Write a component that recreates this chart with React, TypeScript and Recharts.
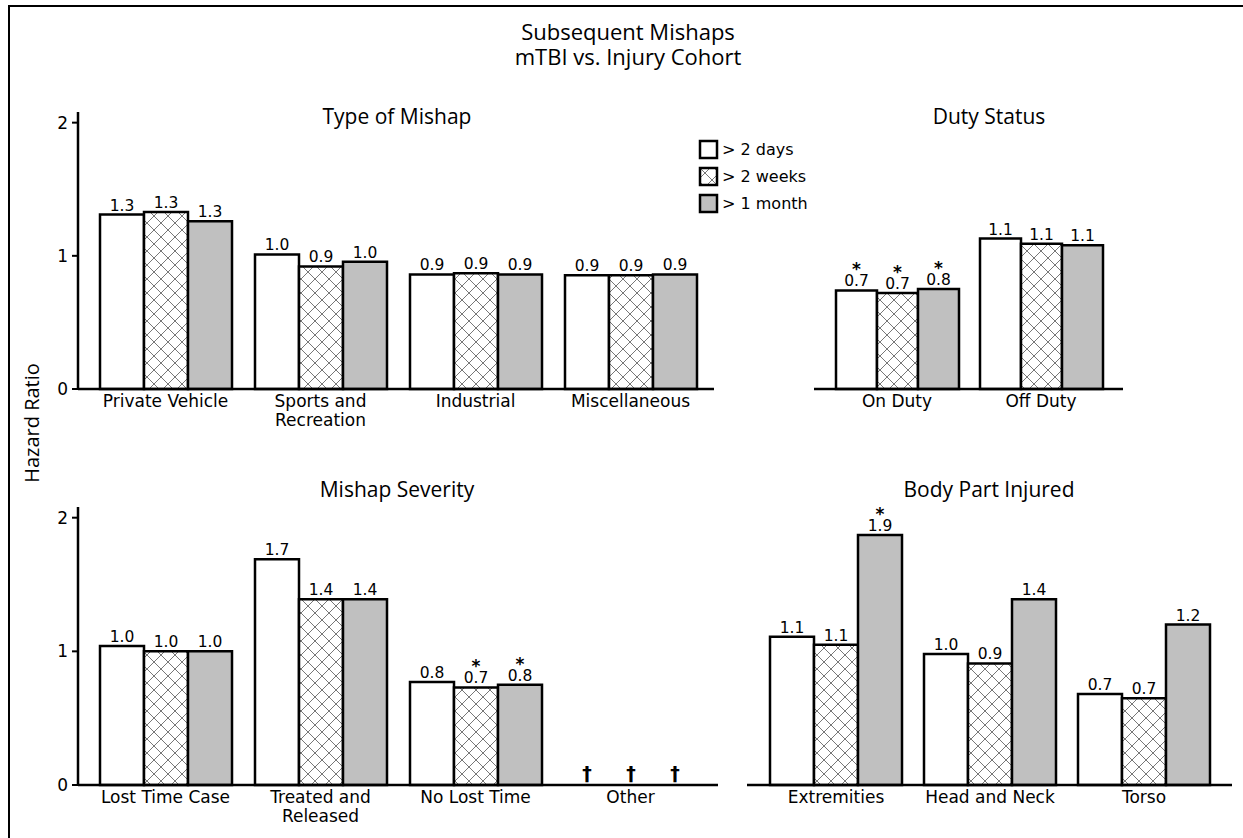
import React from 'react'
import { BarChart, Bar, XAxis, YAxis, LabelList, Legend, Rectangle } from 'recharts'

// Type of Mishap
const typeCats = ['Private Vehicle', 'Sports and\nRecreation', 'Industrial', 'Miscellaneous']
const type2d = [1.31, 1.01, 0.86, 0.855]
const type2w = [1.33, 0.92, 0.87, 0.855]
const type1m = [1.26, 0.955, 0.86, 0.86]
const typeSig2d = [false, false, false, false]
const typeSig2w = [false, false, false, false]
const typeSig1m = [false, false, false, false]

// Duty Status
const dutyCats = ['On Duty', 'Off Duty']
const duty2d = [0.74, 1.13]
const duty2w = [0.72, 1.09]
const duty1m = [0.75, 1.08]
const dutySig2d = [true, false]
const dutySig2w = [true, false]
const dutySig1m = [true, false]

// Mishap Severity (null = not estimable, shown as a dagger)
const sevCats = ['Lost Time Case', 'Treated and\nReleased', 'No Lost Time', 'Other']
const sev2d = [1.04, 1.69, 0.77, null]
const sev2w = [1.0, 1.39, 0.73, null]
const sev1m = [1.0, 1.39, 0.75, null]
const sevSig2d = [false, false, false, false]
const sevSig2w = [false, false, true, false]
const sevSig1m = [false, false, true, false]

// Body Part Injured
const bodyCats = ['Extremities', 'Head and Neck', 'Torso']
const body2d = [1.11, 0.98, 0.68]
const body2w = [1.05, 0.91, 0.65]
const body1m = [1.87, 1.39, 1.2]
const bodySig2d = [false, false, false]
const bodySig2w = [false, false, false]
const bodySig1m = [true, false, false]

const yTicks = [0, 1, 2]
const seriesNames = ['> 2 days', '> 2 weeks', '> 1 month']

// placeholder height so the dagger marker still gets a slot from the bar layout
const DAGGER_SLOT = 0.1

const tickFont = '"DejaVu Sans", Verdana, sans-serif'
const titleFont = '"Open Sans", "Noto Sans", sans-serif'

function CatTick(props: any) {
  const { x, y, payload } = props
  const lines = String(payload.value).split('\n')
  return (
    <text x={x} y={y + 10} textAnchor="middle" fontSize={17} fontFamily={tickFont} fill="#000">
      {lines.map((l, i) => (
        <tspan key={i} x={x} dy={i === 0 ? 0 : 19}>{l}</tspan>
      ))}
    </text>
  )
}

function makeLabel(values: (number | null)[], sig: boolean[]) {
  return (props: any) => {
    const vb = props.viewBox || {}
    const x = props.x ?? vb.x
    const y = props.y ?? vb.y
    const w = props.width ?? vb.width
    const i = props.index
    const v = values[i]
    if (v == null) return null
    const cx = x + w / 2
    if (!sig[i]) {
      return (
        <text x={cx} y={y - 4} textAnchor="middle" fontSize={15.5} fontFamily={tickFont} fill="#000">{v.toFixed(1)}</text>
      )
    }
    // significance star sits right on top of the value
    return (
      <text x={cx} y={y - 15} textAnchor="middle" fontFamily={tickFont} fill="#000">
        <tspan x={cx} fontSize={17} fontWeight="bold">*</tspan>
        <tspan x={cx} dy={11} fontSize={15.5}>{v.toFixed(1)}</tspan>
      </text>
    )
  }
}

function makeShape(values: (number | null)[]) {
  return (props: any) => {
    const v = values[props.index]
    if (v == null) {
      const cx = props.x + props.width / 2
      const base = props.y + props.height
      return (
        <text x={cx} y={base - 5} textAnchor="middle" fontSize={19} fontWeight="bold" fontFamily={tickFont} fill="#000">†</text>
      )
    }
    return <Rectangle {...props} />
  }
}

function LegendBox(props: any) {
  const items = props.payload || []
  return (
    <div style={{ fontFamily: tickFont, fontSize: 16, color: '#000' }}>
      {items.map((it: any, i: number) => (
        <div key={i} style={{ display: 'flex', alignItems: 'center', height: 27 }}>
          <svg width={22} height={22} style={{ marginRight: 2 }}>
            <rect x={2} y={2} width={17} height={17} fill={it.color} stroke="#000" strokeWidth={2.5} />
          </svg>
          <span>{it.value}</span>
        </div>
      ))}
    </div>
  )
}

type PanelProps = {
  id: string
  cats: string[]
  d2: (number | null)[]
  w2: (number | null)[]
  m1: (number | null)[]
  s2d: boolean[]
  s2w: boolean[]
  s1m: boolean[]
  left: number
  top: number
  width: number
  height: number
  margin: { top: number; right: number; bottom: number; left: number }
  padding: { left: number; right: number }
  barSize: number
  showY: boolean
  legend?: boolean
}

function Panel(p: PanelProps) {
  const rows = p.cats.map((c, i) => ({
    cat: c,
    a2d: p.d2[i] ?? DAGGER_SLOT,
    b2w: p.w2[i] ?? DAGGER_SLOT,
    c1m: p.m1[i] ?? DAGGER_SLOT,
  }))
  const hatch = `hatch-${p.id}`
  const axisStyle = { stroke: '#000', strokeWidth: 2.5 }
  return (
    <div style={{ position: 'absolute', left: p.left, top: p.top }}>
      <BarChart width={p.width} height={p.height} data={rows} margin={p.margin} barGap={0} barSize={p.barSize}>
        <defs>
          <pattern id={hatch} patternUnits="userSpaceOnUse" width={14} height={14}>
            <rect x={0} y={0} width={14} height={14} fill="#fff" />
            <path d="M0,0 L14,14 M14,0 L0,14" stroke="#777" strokeWidth={1} />
          </pattern>
        </defs>
        <XAxis
          dataKey="cat"
          axisLine={axisStyle}
          tickLine={false}
          tick={<CatTick />}
          interval={0}
          height={50}
          padding={p.padding}
        />
        {p.showY ? (
          <YAxis
            width={78}
            domain={[0, 2.08]}
            ticks={yTicks}
            axisLine={axisStyle}
            tickLine={{ stroke: '#000', strokeWidth: 2 }}
            tickSize={6}
            tickMargin={4}
            tick={{ fill: '#000', fontSize: 17, fontFamily: tickFont }}
          />
        ) : (
          <YAxis hide domain={[0, 2.08]} ticks={yTicks} />
        )}
        {p.legend && (
          <Legend
            layout="vertical"
            align="center"
            verticalAlign="middle"
            itemSorter="dataKey"
            content={<LegendBox />}
            wrapperStyle={{ left: 698, top: 46, width: 140, height: 84 }}
          />
        )}
        <Bar dataKey="a2d" name={seriesNames[0]} fill="#fff" stroke="#000" strokeWidth={2.5} shape={makeShape(p.d2)} isAnimationActive={false}>
          <LabelList dataKey="a2d" content={makeLabel(p.d2, p.s2d)} />
        </Bar>
        <Bar dataKey="b2w" name={seriesNames[1]} fill={`url(#${hatch})`} stroke="#000" strokeWidth={2.5} shape={makeShape(p.w2)} isAnimationActive={false}>
          <LabelList dataKey="b2w" content={makeLabel(p.w2, p.s2w)} />
        </Bar>
        <Bar dataKey="c1m" name={seriesNames[2]} fill="#c0c0c0" stroke="#000" strokeWidth={2.5} shape={makeShape(p.m1)} isAnimationActive={false}>
          <LabelList dataKey="c1m" content={makeLabel(p.m1, p.s1m)} />
        </Bar>
      </BarChart>
    </div>
  )
}

export default function App() {
  return (
    <div style={{ position: 'absolute', left: 0, top: 0, width: 1243, height: 838, overflow: 'hidden', background: '#fff' }}>
      <div style={{ position: 'absolute', left: 8, top: 5, width: 1243, height: 900, borderTop: '2px solid #000', borderLeft: '2px solid #000' }} />
      <svg width={1243} height={838} style={{ position: 'absolute', left: 0, top: 0 }}>
        <g fontFamily={titleFont} fill="#000" textAnchor="middle">
          <text x={628} y={40} fontSize={22}>Subsequent Mishaps</text>
          <text x={628} y={65} fontSize={22}>mTBI vs. Injury Cohort</text>
          <text x={397} y={124} fontSize={21}>Type of Mishap</text>
          <text x={989} y={124} fontSize={21}>Duty Status</text>
          <text x={397} y={497} fontSize={21}>Mishap Severity</text>
          <text x={989} y={497} fontSize={21}>Body Part Injured</text>
          <text x={39} y={423} fontSize={20} transform="rotate(-90 39 423)">Hazard Ratio</text>
        </g>
      </svg>
      <Panel
        id="type"
        cats={typeCats}
        d2={type2d}
        w2={type2w}
        m1={type1m}
        s2d={typeSig2d}
        s2w={typeSig2w}
        s1m={typeSig1m}
        left={0}
        top={90}
        width={720}
        height={370}
        margin={{ top: 22, right: 6, bottom: 21, left: 0 }}
        padding={{ left: 10, right: 6 }}
        barSize={44}
        showY
        legend
      />
      <Panel
        id="duty"
        cats={dutyCats}
        d2={duty2d}
        w2={duty2w}
        m1={duty1m}
        s2d={dutySig2d}
        s2w={dutySig2w}
        s1m={dutySig1m}
        left={740}
        top={90}
        width={400}
        height={370}
        margin={{ top: 22, right: 17, bottom: 21, left: 74 }}
        padding={{ left: 11, right: 10 }}
        barSize={41}
        showY={false}
      />
      <Panel
        id="sev"
        cats={sevCats}
        d2={sev2d}
        w2={sev2w}
        m1={sev1m}
        s2d={sevSig2d}
        s2w={sevSig2w}
        s1m={sevSig1m}
        left={0}
        top={480}
        width={720}
        height={358}
        margin={{ top: 27, right: 2, bottom: 3, left: 0 }}
        padding={{ left: 10, right: 10 }}
        barSize={44}
        showY
      />
      <Panel
        id="body"
        cats={bodyCats}
        d2={body2d}
        w2={body2w}
        m1={body1m}
        s2d={bodySig2d}
        s2w={bodySig2w}
        s1m={bodySig1m}
        left={740}
        top={480}
        width={503}
        height={358}
        margin={{ top: 27, right: 11, bottom: 3, left: 7 }}
        padding={{ left: 12, right: 11 }}
        barSize={44}
        showY={false}
      />
    </div>
  )
}
